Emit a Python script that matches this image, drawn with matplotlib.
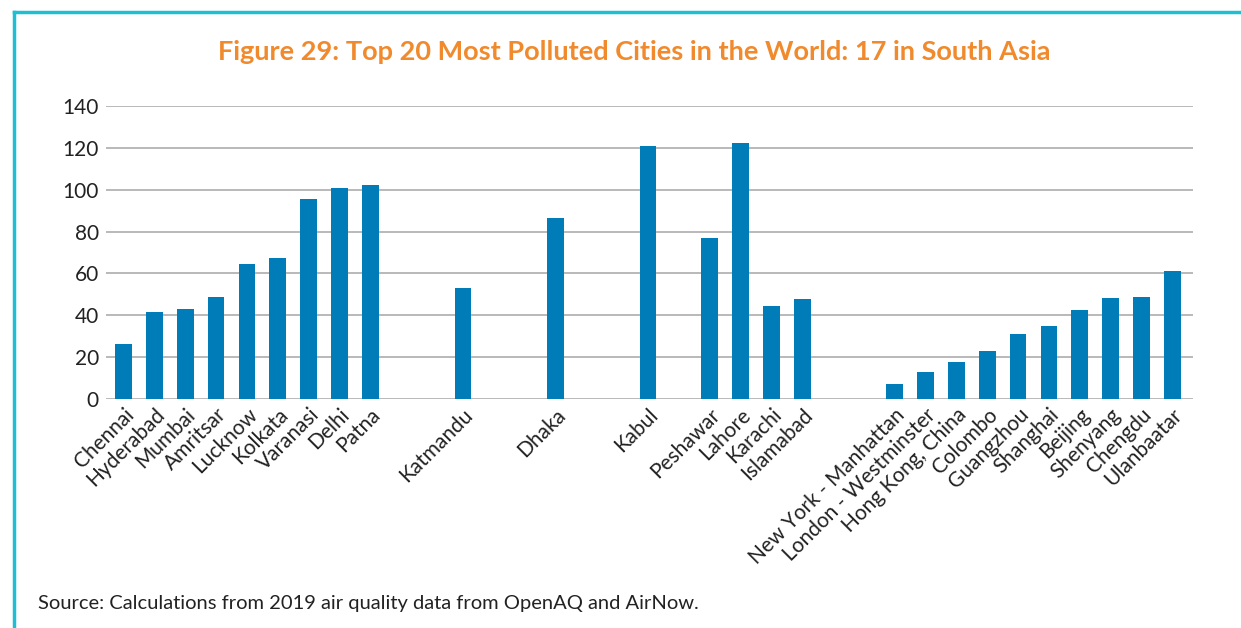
import matplotlib
matplotlib.use("Agg")
import matplotlib.pyplot as plt
from matplotlib.lines import Line2D

cities = ["Chennai", "Hyderabad", "Mumbai", "Amritsar", "Lucknow", "Kolkata",
          "Varanasi", "Delhi", "Patna", "", "", "Katmandu", "", "", "Dhaka", "", "",
          "Kabul", "", "Peshawar", "Lahore", "Karachi", "Islamabad", "", "",
          "New York - Manhattan", "London - Westminster", "Hong Kong, China",
          "Colombo", "Guangzhou", "Shanghai", "Beijing", "Shenyang", "Chengdu",
          "Ulanbaatar"]
values = [26.3, 41.6, 43.0, 48.7, 64.5, 67.4, 95.5, 100.8, 102.2, None, None,
          53.0, None, None, 86.5, None, None, 120.9, None, 77.0, 122.3, 44.4,
          47.8, None, None, 7.1, 12.8, 17.9, 23.1, 31.0, 34.9, 42.5, 48.2, 48.7,
          61.1]
yticks = [0, 20, 40, 60, 80, 100, 120, 140]

title = "Figure 29: Top 20 Most Polluted Cities in the World: 17 in South Asia"
source = "Source: Calculations from 2019 air quality data from OpenAQ and AirNow."

bar_color = "#007DB8"
grid_color = "#A6A6A6"
title_color = "#F08A2C"
frame_color = "#1FBFD2"
font = "Lato"

fig = plt.figure(figsize=(12.41, 6.28), dpi=100)
ax = fig.add_axes([105.7 / 1241, 1 - 399 / 628, (1193 - 105.7) / 1241, (399 - 106) / 628])

xs = list(range(len(cities)))
bx = [x for x, v in zip(xs, values) if v is not None]
bv = [v for v in values if v is not None]
ax.bar(bx, bv, width=0.54, color=bar_color, zorder=3)

ax.set_ylim(0, 140)
ax.set_xlim(-0.58, len(cities) - 1 + 0.67)
ax.set_yticks(yticks)
ax.set_yticklabels([str(t) for t in yticks], fontsize=15, family=font, color="#222222")
ax.yaxis.grid(True, color=grid_color, linewidth=1.1, zorder=0)
ax.set_axisbelow(True)
ax.set_xticks(xs)
ax.set_xticklabels(cities, rotation=45, ha="right", va="top", rotation_mode="anchor",
                   fontsize=15, family=font, color="#222222")
ax.tick_params(axis="both", length=0)
ax.tick_params(axis="x", pad=4)
ax.tick_params(axis="y", pad=5)
for s in ax.spines.values():
    s.set_visible(False)

fig.text(634 / 1241, 1 - 52 / 628, title, ha="center", va="center", fontsize=19.5,
         fontweight="bold", family=font, color=title_color)
fig.text(38 / 1241, 1 - 604 / 628, source, ha="left", va="center", fontsize=14.5,
         family=font, color="#222222")

fig.add_artist(Line2D([14 / 1241, 1], [1 - 12 / 628, 1 - 12 / 628],
                      transform=fig.transFigure, color=frame_color, linewidth=2.5))
fig.add_artist(Line2D([14 / 1241, 14 / 1241], [1 - 12 / 628, 0],
                      transform=fig.transFigure, color=frame_color, linewidth=2.5))

fig.savefig("out.png", dpi=100)
